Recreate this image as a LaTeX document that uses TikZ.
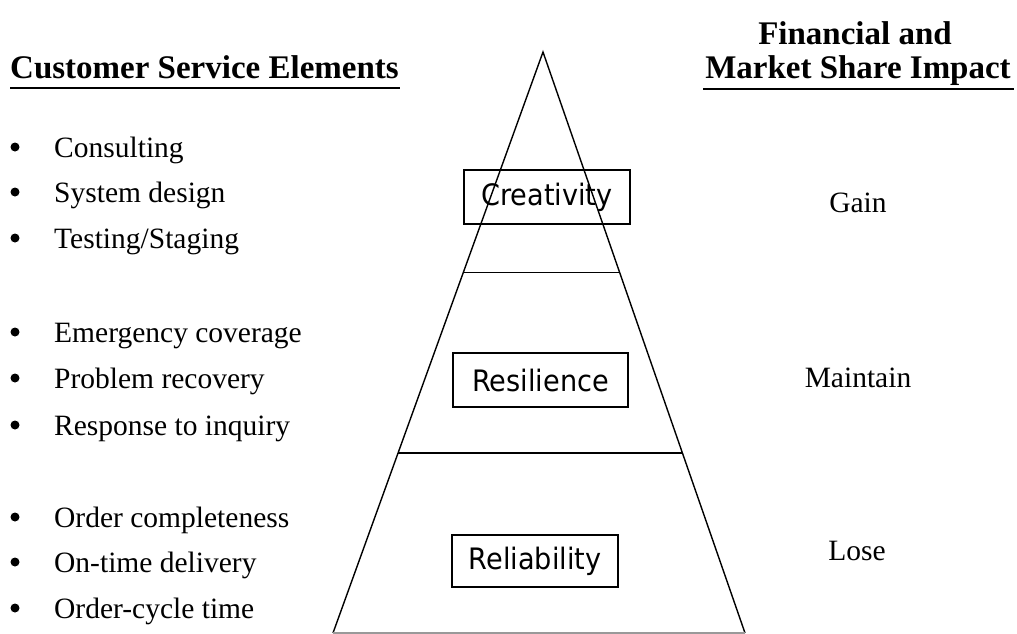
\documentclass[tikz,border=0pt]{standalone}
\usepackage{fontspec}
\setmainfont{Liberation Serif}
\newfontfamily\boxfont[FakeStretch=0.92]{DejaVu Sans}
\usetikzlibrary{calc}
\begin{document}
\begin{tikzpicture}[x=1pt,y=-1pt,
  heading/.style={inner sep=0pt,anchor=base,font=\fontsize{33}{38}\selectfont\bfseries},
  item/.style={inner sep=0pt,anchor=base west,font=\fontsize{29.5}{34}\selectfont},
  dot/.style={circle,fill,inner sep=0pt,minimum size=9},
  impact/.style={inner sep=0pt,anchor=base,font=\fontsize{29.5}{34}\selectfont},
  levelbox/.style={draw,line width=1.2pt,inner sep=0pt,minimum height=54,
    font=\boxfont\fontsize{29.5}{34}\selectfont},
  edge/.style={line width=1.4pt},
  rule/.style={line width=1.8pt}]
\useasboundingbox (0,0) rectangle (1017,634);

% headings
\node[heading,anchor=base west] (cse) at (10,78) {Customer Service Elements};
\draw[rule] (10,88) -- (400,88);
\node[heading] (fin) at (855,45) {Financial and};
\node[heading] (msi) at (858,78) {Market Share Impact};
\draw[rule] (703,89) -- (1014,89);

% pyramid
\coordinate (apex) at (543,52);
\coordinate (bl) at (333,633);
\coordinate (br) at (745,633);
\draw[edge] (bl) -- (apex) -- (br);
\draw[line width=1.2pt,black!40] (bl) -- (br);
\draw[edge] ($(apex)!0.379!(bl)$) -- ($(apex)!0.379!(br)$);
\draw[edge] ($(apex)!0.690!(bl)$) -- ($(apex)!0.690!(br)$);

% level boxes
\node[levelbox,minimum width=166] (cre) at (547,197) {Creativity};
\node[levelbox,minimum width=175] (res) at (540.5,380) {Resilience};
\node[levelbox,minimum width=166,minimum height=52] (rel) at (535,561) {Reliability};

% service elements
\foreach \y/\t [count=\i] in {157/Consulting,202/System design,248/Testing\slash Staging,
    342/Emergency coverage,388/Problem recovery,435/Response to inquiry,
    527/Order completeness,572/On-time delivery,618/Order-cycle time}{
  \node[dot] (b\i) at (15,\y-10) {};
  \node[item] (e\i) at (54,\y) {\t};
}

% impact
\node[impact] (gain) at (858,212) {Gain};
\node[impact] (maint) at (858,387) {Maintain};
\node[impact] (lose) at (857,560) {Lose};
\end{tikzpicture}
\end{document}
